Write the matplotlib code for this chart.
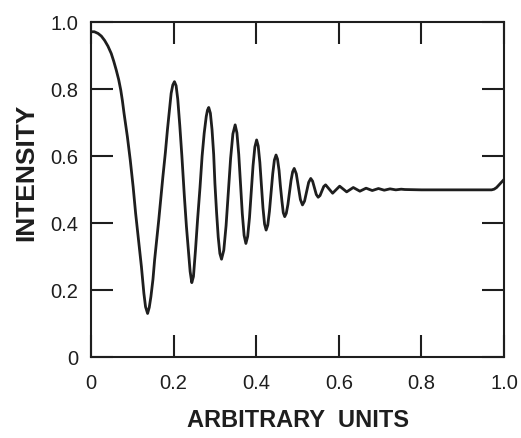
import matplotlib
matplotlib.use('Agg')
import matplotlib.pyplot as plt

# curve (x in arbitrary units, y = intensity)
x_vals = [
	0.000, 0.008, 0.017, 0.025, 0.033, 0.041, 0.049, 0.055, 0.061, 0.067,
	0.072, 0.076, 0.080, 0.088, 0.095, 0.102, 0.108, 0.115, 0.122, 0.128,
	0.132, 0.137,
	0.141, 0.145, 0.150, 0.154, 0.159, 0.164, 0.169, 0.174, 0.180, 0.185,
	0.190, 0.194, 0.198, 0.202,
	0.206, 0.210, 0.215, 0.220, 0.226, 0.231, 0.236, 0.240, 0.244,
	0.248, 0.253, 0.258, 0.264, 0.269, 0.274, 0.279, 0.282, 0.285,
	0.289, 0.293, 0.297, 0.300, 0.304, 0.308, 0.312, 0.316,
	0.3215, 0.327, 0.3325, 0.338, 0.3435, 0.349,
	0.3533, 0.3577, 0.362, 0.3663, 0.3707, 0.375,
	0.3793, 0.3837, 0.388, 0.3923, 0.3967, 0.401,
	0.4048, 0.4088, 0.4125, 0.4163, 0.4202, 0.424,
	0.428, 0.432, 0.436, 0.440, 0.444, 0.448,
	0.4515, 0.4553, 0.4585, 0.4623, 0.4655, 0.469,
	0.4728, 0.4767, 0.4805, 0.4843, 0.4882, 0.492,
	0.497, 0.502, 0.507, 0.512,
	0.517, 0.522, 0.527, 0.532,
	0.5365, 0.541, 0.5455, 0.550,
	0.5545, 0.559, 0.5635, 0.568,
	0.5765, 0.585, 0.5935, 0.602, 0.6105, 0.619, 0.627, 0.635, 0.643, 0.651,
	0.6585, 0.666, 0.6735, 0.681, 0.6885, 0.696, 0.703, 0.710, 0.717, 0.724,
	0.731, 0.738, 0.7445, 0.751, 0.760,
	0.800, 0.850, 0.900, 0.950, 0.970, 0.976, 0.982, 0.988, 0.994, 1.000,
]
y_vals = [
	0.971, 0.971, 0.966, 0.958, 0.945, 0.928, 0.906, 0.883, 0.857, 0.828,
	0.797, 0.765, 0.727, 0.658, 0.588, 0.508, 0.429, 0.349, 0.270, 0.190,
	0.150, 0.130,
	0.148, 0.180, 0.232, 0.290, 0.350, 0.409, 0.474, 0.538, 0.610, 0.678,
	0.740, 0.787, 0.812, 0.822,
	0.810, 0.770, 0.690, 0.600, 0.480, 0.390, 0.315, 0.255, 0.222,
	0.240, 0.320, 0.410, 0.508, 0.600, 0.668, 0.718, 0.737, 0.745,
	0.728, 0.679, 0.605, 0.518, 0.432, 0.358, 0.309, 0.292,
	0.319, 0.392, 0.4925, 0.593, 0.666, 0.693,
	0.669, 0.605, 0.516, 0.428, 0.363, 0.339,
	0.360, 0.416, 0.4935, 0.571, 0.627, 0.648,
	0.630, 0.581, 0.5135, 0.446, 0.397, 0.379,
	0.394, 0.435, 0.491, 0.547, 0.588, 0.603,
	0.591, 0.557, 0.511, 0.465, 0.431, 0.419,
	0.429, 0.455, 0.491, 0.527, 0.553, 0.563,
	0.547, 0.5085, 0.470, 0.454,
	0.4655, 0.4935, 0.5215, 0.533,
	0.525, 0.505, 0.485, 0.477,
	0.482, 0.4955, 0.509, 0.514,
	0.5015, 0.489, 0.4995, 0.510, 0.5015, 0.493, 0.4995, 0.506, 0.5005, 0.495,
	0.4995, 0.504, 0.5005, 0.497, 0.500, 0.503, 0.5005, 0.498, 0.500, 0.502,
	0.5005, 0.499, 0.500, 0.501, 0.500,
	0.499, 0.499, 0.499, 0.499, 0.499, 0.501, 0.506, 0.514, 0.522, 0.530,
]

x_ticks = [0, 0.2, 0.4, 0.6, 0.8, 1.0]
x_labels = ['0', '0.2', '0.4', '0.6', '0.8', '1.0']
y_ticks = [0, 0.2, 0.4, 0.6, 0.8, 1.0]
y_labels = ['0', '0.2', '0.4', '0.6', '0.8', '1.0']

ink = '#1e1e1e'
plt.rcParams['font.family'] = ['Liberation Sans', 'DejaVu Sans']

fig = plt.figure(figsize = (5.21, 4.38), dpi = 100)
ax = fig.add_axes([0.1747, 0.1849, 0.7927, 0.7648])

ax.plot(x_vals, y_vals, color = ink, lw = 2.0, solid_joinstyle = 'round')

ax.set_xlim(0, 1.0)
ax.set_ylim(0, 1.0)
ax.set_xticks(x_ticks)
ax.set_xticklabels(x_labels)
ax.set_yticks(y_ticks)
ax.set_yticklabels(y_labels)

ax.tick_params(direction = 'in', length = 16, width = 1.5, color = ink,
	top = True, right = True, labelsize = 14.5, labelcolor = ink)
ax.tick_params(axis = 'x', pad = 12)
ax.tick_params(axis = 'y', pad = 9)
for s in ax.spines.values():
	s.set_linewidth(1.5)
	s.set_color(ink)

ax.set_xlabel('ARBITRARY  UNITS', fontsize = 17, fontweight = 'bold', color = ink, labelpad = 12)
ax.set_ylabel('INTENSITY', fontsize = 19, fontweight = 'bold', color = ink)
ax.yaxis.set_label_coords(-0.128, 0.55)

fig.savefig('out.png', dpi = 100)
